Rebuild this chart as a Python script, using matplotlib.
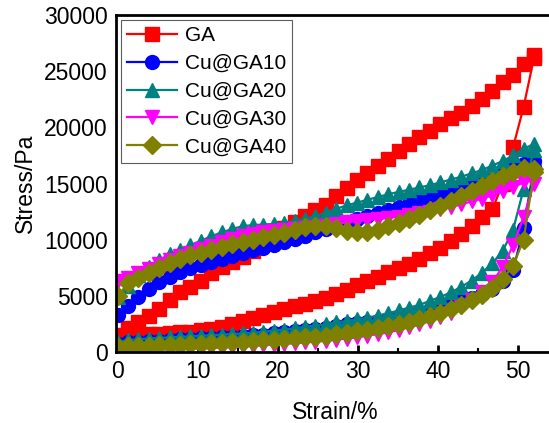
#!/usr/bin/env python3
"""
Compression stress-strain loops for GA and Cu@GA samples.
Saves the figure to out.png.
"""

import matplotlib
matplotlib.use("Agg")
import matplotlib.pyplot as plt
from matplotlib.ticker import MultipleLocator

# Strain steps (%) for the loading branch; unloading runs back over the same steps
strain_load = [0, 1.3, 2.6, 3.9, 5.2, 6.5, 7.8, 9.1, 10.4, 11.7, 13.0, 14.3, 15.6, 16.9,
               18.2, 19.5, 20.8, 22.1, 23.4, 24.7, 26.0, 27.3, 28.6, 29.9, 31.2, 32.5,
               33.8, 35.1, 36.4, 37.7, 39.0, 40.3, 41.6, 42.9, 44.2, 45.5, 46.8, 48.1,
               49.4, 50.7, 52.0]
strain_unload = list(reversed(strain_load))

# Stress (Pa), loading branch
ga_load = [1500, 2100, 2700, 3200, 3800, 4600, 5300, 5800, 6300, 7000, 7600, 8050, 8500, 9000,
           9700, 10400, 11000, 11600, 12100, 12600, 13100, 13900, 14600, 15300, 15900, 16600,
           17200, 17900, 18500, 19100, 19700, 20300, 20800, 21300, 21900, 22500, 23200, 24000,
           24700, 25600, 26400]
cu10_load = [3300, 4100, 4900, 5600, 6200, 6700, 7100, 7450, 7750, 8000, 8300, 8550, 8800, 9050,
             9300, 9550, 9800, 10050, 10350, 10650, 10950, 11250, 11550, 11850, 12100, 12400,
             12650, 12900, 13150, 13400, 13650, 13950, 14250, 14550, 14850, 15150, 15500, 15900,
             16300, 16700, 17000]
cu20_load = [4900, 5900, 6900, 7600, 8200, 8700, 9100, 9500, 9900, 10300, 10650, 10950, 11200, 11300,
             11350, 11400, 11500, 11650, 11850, 12100, 12400, 12750, 13050, 13300, 13550, 13800,
             14050, 14250, 14450, 14650, 14850, 15100, 15350, 15600, 15900, 16200, 16600, 17000,
             17500, 18100, 18500]
cu30_load = [6300, 6600, 7000, 7400, 7800, 8200, 8550, 8850, 9150, 9450, 9750, 10050, 10300, 10500,
             10650, 10750, 10850, 10950, 11050, 11150, 11250, 11400, 11550, 11650, 11750, 11850,
             11950, 12050, 12200, 12350, 12500, 12700, 12900, 13150, 13400, 13650, 13950, 14300,
             14700, 15100, 15500]
cu40_load = [5000, 6100, 6600, 7000, 7450, 7900, 8300, 8600, 8850, 9100, 9350, 9600, 9800, 10000,
             10200, 10400, 10600, 10850, 11100, 11250, 11200, 11000, 10800, 10650, 10700, 10900,
             11200, 11500, 11850, 12200, 12600, 13000, 13400, 13850, 14300, 14750, 15200, 15650,
             16050, 16400, 16300]

# Stress (Pa), unloading branch (from 52 % back to 0 %)
ga_unload = [26200, 21800, 18250, 15000, 12700, 12000, 11200, 10500, 9850, 9250, 8780, 8320, 7880,
             7500, 7100, 6720, 6350, 5960, 5520, 5130, 4800, 4550, 4300, 4080, 3820, 3560, 3300,
             3030, 2750, 2480, 2250, 2070, 1930, 1810, 1740, 1680, 1630, 1580, 1530, 1450, 1360]
cu10_unload = [16500, 11000, 7300, 6300, 5600, 5150, 4800, 4500, 4250, 4000, 3750, 3550, 3350,
               3150, 2950, 2800, 2650, 2550, 2450, 2300, 2150, 2050, 1950, 1850, 1750, 1650, 1550,
               1480, 1420, 1370, 1320, 1270, 1220, 1170, 1120, 1070, 1020, 970, 920, 850, 750]
cu20_unload = [18000, 14500, 10900, 9000, 7900, 7050, 6350, 5800, 5300, 4900, 4550, 4200, 3950,
               3700, 3450, 3250, 3050, 2900, 2750, 2650, 2450, 2350, 2250, 2100, 2000, 1900, 1800,
               1700, 1650, 1600, 1550, 1500, 1450, 1400, 1350, 1300, 1250, 1200, 1150, 1050, 900]
cu30_unload = [15000, 12000, 9500, 7600, 6200, 5300, 4600, 4000, 3500, 3100, 2750, 2450, 2200,
               1950, 1750, 1600, 1450, 1300, 1200, 1100, 1000, 920, 850, 780, 720, 660, 600,
               550, 500, 450, 400, 360, 320, 290, 260, 240, 220, 200, 180, 160, 150]
cu40_unload = [16000, 10000, 7700, 6500, 5700, 5100, 4600, 4200, 3850, 3500, 3200, 2950, 2700,
               2500, 2300, 2150, 2000, 1850, 1700, 1600, 1450, 1380, 1300, 1230, 1170, 1110, 1050,
               990, 930, 870, 820, 780, 740, 700, 660, 620, 590, 560, 530, 500, 450]

labels = ["GA", "Cu@GA10", "Cu@GA20", "Cu@GA30", "Cu@GA40"]
colors = ["#FF0000", "#0000FF", "#008080", "#FF00FF", "#808000"]
markers = ["s", "o", "^", "v", "D"]


def main():
    plt.rcParams['font.family'] = ['Liberation Sans', 'DejaVu Sans']

    fig = plt.figure(figsize=(5.49, 4.23), dpi=100)
    ax = fig.add_axes([0.2113, 0.1678, 0.7978, 0.7967])

    loads = [ga_load, cu10_load, cu20_load, cu30_load, cu40_load]
    unloads = [ga_unload, cu10_unload, cu20_unload, cu30_unload, cu40_unload]

    for load, unload, label, color, marker in zip(loads, unloads, labels, colors, markers):
        ms = 9 if marker == "D" else 10
        ax.plot(strain_load + strain_unload, load + unload, color=color, marker=marker,
                markersize=ms, markeredgecolor=color, linewidth=1.6, label=label)

    ax.set_xlim(-0.2, 54.5)
    ax.set_ylim(0, 30000)
    ax.xaxis.set_major_locator(MultipleLocator(10))
    ax.xaxis.set_minor_locator(MultipleLocator(5))
    ax.yaxis.set_major_locator(MultipleLocator(5000))

    for side in ['left', 'top', 'bottom', 'right']:
        ax.spines[side].set_linewidth(2)

    ax.tick_params(axis='x', which='major', direction='in', length=5, width=2,
                   labelsize=16.5, pad=6)
    ax.tick_params(axis='x', which='minor', direction='in', length=3, width=1.5)
    ax.tick_params(axis='y', which='both', length=0, labelsize=16.5, pad=6)

    ax.set_xlabel("Strain/%", fontsize=16.5, labelpad=13)
    ax.set_ylabel("Stress/Pa", fontsize=16.5, labelpad=5)

    leg = ax.legend(loc='upper left', fontsize=15, frameon=True, fancybox=False,
                    edgecolor='#333333', borderaxespad=0.25, handlelength=2.4,
                    labelspacing=0.42, handletextpad=0.35, borderpad=0.3)
    leg.get_frame().set_linewidth(0.8)

    fig.savefig("out.png", dpi=100)


if __name__ == "__main__":
    main()
